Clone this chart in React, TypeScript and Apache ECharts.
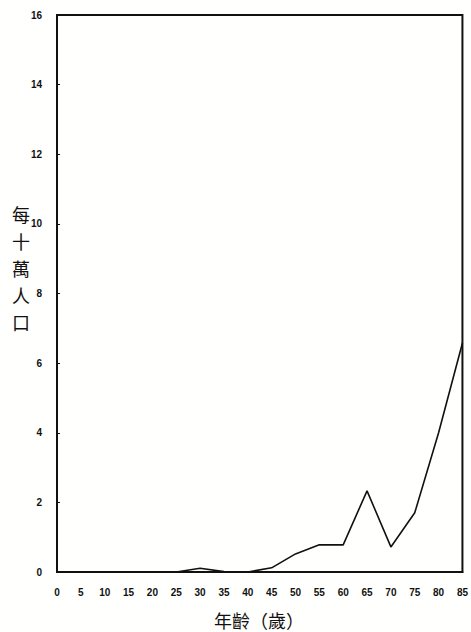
import React, { useEffect, useRef } from "react";
import * as echarts from "echarts";

const ages = ["0", "5", "10", "15", "20", "25", "30", "35", "40", "45", "50", "55", "60", "65", "70", "75", "80", "85"];
const rates = [0, 0, 0, 0, 0, 0, 0.11, 0.01, 0, 0.12, 0.52, 0.78, 0.78, 2.33, 0.72, 1.7, 4.0, 6.58];
const yTitle = "每十萬人口";
const xTitle = "年齡（歲）";

export default function App() {
  const ref = useRef<HTMLDivElement>(null);
  useEffect(() => {
    if (!ref.current) return;
    const chart = echarts.init(ref.current, null, { renderer: "svg" });
    chart.setOption({
      animation: false,
      backgroundColor: "#fffffd",
      grid: {
        left: 57,
        right: 5,
        top: 15,
        bottom: 60,
        show: true,
        borderColor: "#111",
        borderWidth: 2,
        backgroundColor: "transparent",
      },
      xAxis: {
        type: "category",
        data: ages,
        boundaryGap: false,
        axisLine: { lineStyle: { color: "#111", width: 2 } },
        axisTick: { show: false },
        axisLabel: {
          interval: 0,
          margin: 15,
          color: "#111",
          fontSize: 10,
          fontWeight: "bold",
          fontFamily: "Liberation Sans, Arial, sans-serif",
        },
        splitLine: { show: false },
      },
      yAxis: {
        type: "value",
        min: 0,
        max: 16,
        interval: 2,
        axisLine: { show: true, lineStyle: { color: "#111", width: 2 } },
        axisTick: { show: true, inside: true, length: 3, lineStyle: { color: "#111" } },
        axisLabel: {
          margin: 15,
          color: "#111",
          fontSize: 10,
          fontWeight: "bold",
          fontFamily: "Liberation Sans, Arial, sans-serif",
        },
        splitLine: { show: false },
      },
      graphic: [
        {
          type: "text",
          left: 12,
          top: 200,
          style: {
            text: yTitle.split("").join("\n"),
            font: "18px 'Noto Sans CJK TC'",
            lineHeight: 27,
            fill: "#111",
            align: "center",
          },
        },
        {
          type: "text",
          x: 259,
          y: 620,
          style: {
            text: xTitle,
            font: "18px 'Noto Sans CJK TC'",
            fill: "#111",
            align: "center",
            verticalAlign: "middle",
          },
        },
      ],
      series: [
        {
          type: "line",
          data: rates,
          symbol: "none",
          lineStyle: { color: "#111", width: 1.6 },
        },
      ],
    });
    return () => chart.dispose();
  }, []);
  return (
    <div
      ref={ref}
      style={{ position: "fixed", left: 0, top: 0, width: 471, height: 632 }}
    />
  );
}
